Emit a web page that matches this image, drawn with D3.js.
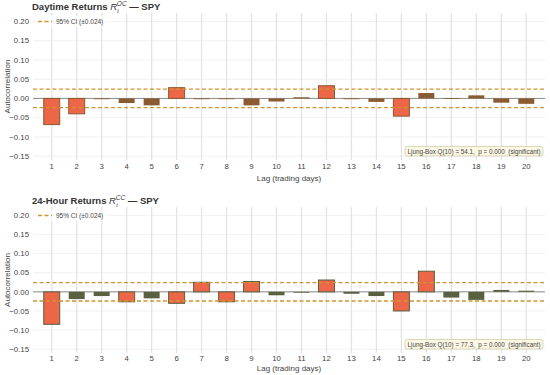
<!DOCTYPE html>
<html>
<head>
<meta charset="utf-8">
<script src="https://cdn.jsdelivr.net/npm/d3@7"></script>
<style>
  body { margin: 0; background: #fff; }
  svg { display: block; font-family: "Liberation Sans", Arial, sans-serif; }
</style>
</head>
<body>
<div id="chart"></div>
<script>
// valeurs
const lags = [1, 2, 3, 4, 5, 6, 7, 8, 9, 10, 11, 12, 13, 14, 15, 16, 17, 18, 19, 20];
const daytimeAcf = [-0.068, -0.040, -0.002, -0.012, -0.018, 0.028, 0.000, 0.000, -0.018, -0.008,
                    0.003, 0.033, 0.000, -0.009, -0.046, 0.014, 0.001, 0.008, -0.011, -0.014];
const fullDayAcf = [-0.085, -0.019, -0.011, -0.026, -0.017, -0.030, 0.025, -0.026, 0.027, -0.009,
                    0.000, 0.031, -0.005, -0.011, -0.050, 0.054, -0.015, -0.021, 0.005, 0.003];
const yTicks = [-0.15, -0.10, -0.05, 0.00, 0.05, 0.10, 0.15, 0.20];
const ciBound = 0.024;
const panelNames = ["Daytime Returns ", "24-Hour Returns "];
const panelSup = ["OC", "CC"];
const ljungQ = [54.1, 77.3];
const ljungP = [0.000, 0.000];

const width = 550, height = 375;
const svg = d3.select("#chart").append("svg")
  .attr("width", width).attr("height", height);

const x = d3.scaleLinear().domain([0.25, 20.75]).range([33, 545]);
const barW = 0.64;

function drawPanel(values, idx, top, bottom, tickOff, labelOff) {
  const y = d3.scaleLinear().domain([-0.16, 0.222]).range([bottom, top]);
  const g = svg.append("g");
  const baseColor = idx === 0 ? "#8a5a30" : "#596040";

  // grille
  g.selectAll(".hgrid").data(yTicks).enter().append("line")
    .attr("x1", 33).attr("x2", 545)
    .attr("y1", d => y(d)).attr("y2", d => y(d))
    .attr("stroke", "#eeeeee").attr("stroke-width", 0.8);
  g.selectAll(".vgrid").data(lags).enter().append("line")
    .attr("x1", d => x(d)).attr("x2", d => x(d))
    .attr("y1", top).attr("y2", bottom)
    .attr("stroke", "#e3e3e3").attr("stroke-width", 1.3);

  // ligne zéro
  g.append("line")
    .attr("x1", 33).attr("x2", 545)
    .attr("y1", y(0)).attr("y2", y(0))
    .attr("stroke", "#8c8c8c").attr("stroke-width", 1);

  // barres
  g.selectAll(".bar").data(values).enter().append("rect")
    .attr("x", (d, i) => x(lags[i] - barW / 2))
    .attr("width", x(barW) - x(0))
    .attr("y", d => y(Math.max(d, 0)))
    .attr("height", d => Math.max(Math.abs(y(d) - y(0)), 0.8))
    .attr("fill", d => Math.abs(d) > ciBound ? "#ec6648" : baseColor)
    .attr("stroke", baseColor)
    .attr("stroke-width", d => Math.abs(d) > ciBound ? 1 : 0);

  // intervalle de confiance
  [ciBound, -ciBound].forEach(v => {
    g.append("line")
      .attr("x1", 33).attr("x2", 545)
      .attr("y1", y(v)).attr("y2", y(v))
      .attr("stroke", "#cf9433").attr("stroke-width", 1.3)
      .attr("stroke-dasharray", "4,2.5");
  });

  // axe y
  g.selectAll(".ytick").data(yTicks).enter().append("text")
    .attr("x", 29).attr("y", d => y(d) + 2.7)
    .attr("text-anchor", "end")
    .attr("font-size", 7.8).attr("fill", "#444")
    .text(d => d3.format(".2f")(d).replace("-", "\u2212"));
  g.append("text")
    .attr("transform", `translate(10,${(top + bottom) / 2}) rotate(-90)`)
    .attr("text-anchor", "middle")
    .attr("font-size", 8).attr("fill", "#444")
    .text("Autocorrelation");

  // axe x
  g.selectAll(".xtick").data(lags).enter().append("text")
    .attr("x", d => x(d)).attr("y", bottom + tickOff)
    .attr("text-anchor", "middle")
    .attr("font-size", 7.8).attr("fill", "#444")
    .text(d => d);
  g.append("text")
    .attr("x", 289).attr("y", bottom + labelOff)
    .attr("text-anchor", "middle")
    .attr("font-size", 8).attr("fill", "#444")
    .text("Lag (trading days)");

  // titre
  const t = g.append("text")
    .attr("x", 32).attr("y", top - 3)
    .attr("font-size", 9.5).attr("font-weight", "bold").attr("fill", "#333");
  t.append("tspan").text(panelNames[idx]);
  t.append("tspan").attr("font-style", "italic").attr("font-weight", "normal").text("R");
  t.append("tspan").attr("font-size", 5.5).attr("font-style", "italic").attr("font-weight", "normal")
    .attr("dy", 3).attr("dx", 0.3).text("t");
  t.append("tspan").attr("font-size", 6.5).attr("font-style", "italic").attr("font-weight", "normal")
    .attr("dy", -7).attr("dx", -2).text(panelSup[idx]);
  t.append("tspan").attr("dy", 4).text(" \u2014 SPY");

  // légende
  g.append("rect")
    .attr("x", 36).attr("y", top + 3).attr("width", 72).attr("height", 11).attr("rx", 2)
    .attr("fill", "#fff").attr("fill-opacity", 0.8);
  g.append("line")
    .attr("x1", 38).attr("x2", 52).attr("y1", top + 8.5).attr("y2", top + 8.5)
    .attr("stroke", "#cf9433").attr("stroke-width", 1.3).attr("stroke-dasharray", "4,2.5");
  g.append("text")
    .attr("x", 56).attr("y", top + 11)
    .attr("font-size", 6.5).attr("fill", "#444")
    .text(`95% CI (\u00b1${ciBound.toFixed(3)})`);

  // boîte Ljung-Box
  const boxTop = bottom - 13.5;
  g.append("rect")
    .attr("x", 405).attr("y", boxTop).attr("width", 138).attr("height", 9.5).attr("rx", 2)
    .attr("fill", "#fbf8e4").attr("stroke", "#cfc7a0").attr("stroke-width", 0.7);
  g.append("text")
    .attr("x", 474).attr("y", boxTop + 7)
    .attr("text-anchor", "middle")
    .attr("font-size", 6.3).attr("fill", "#444")
    .text(`Ljung-Box Q(10) = ${ljungQ[idx].toFixed(1)},  p = ${ljungP[idx].toFixed(3)}  (significant)`)
    .style("white-space", "pre");
}

drawPanel(daytimeAcf, 0, 13, 160, 9, 21);
drawPanel(fullDayAcf, 1, 207, 353, 8, 18);
</script>
</body>
</html>
